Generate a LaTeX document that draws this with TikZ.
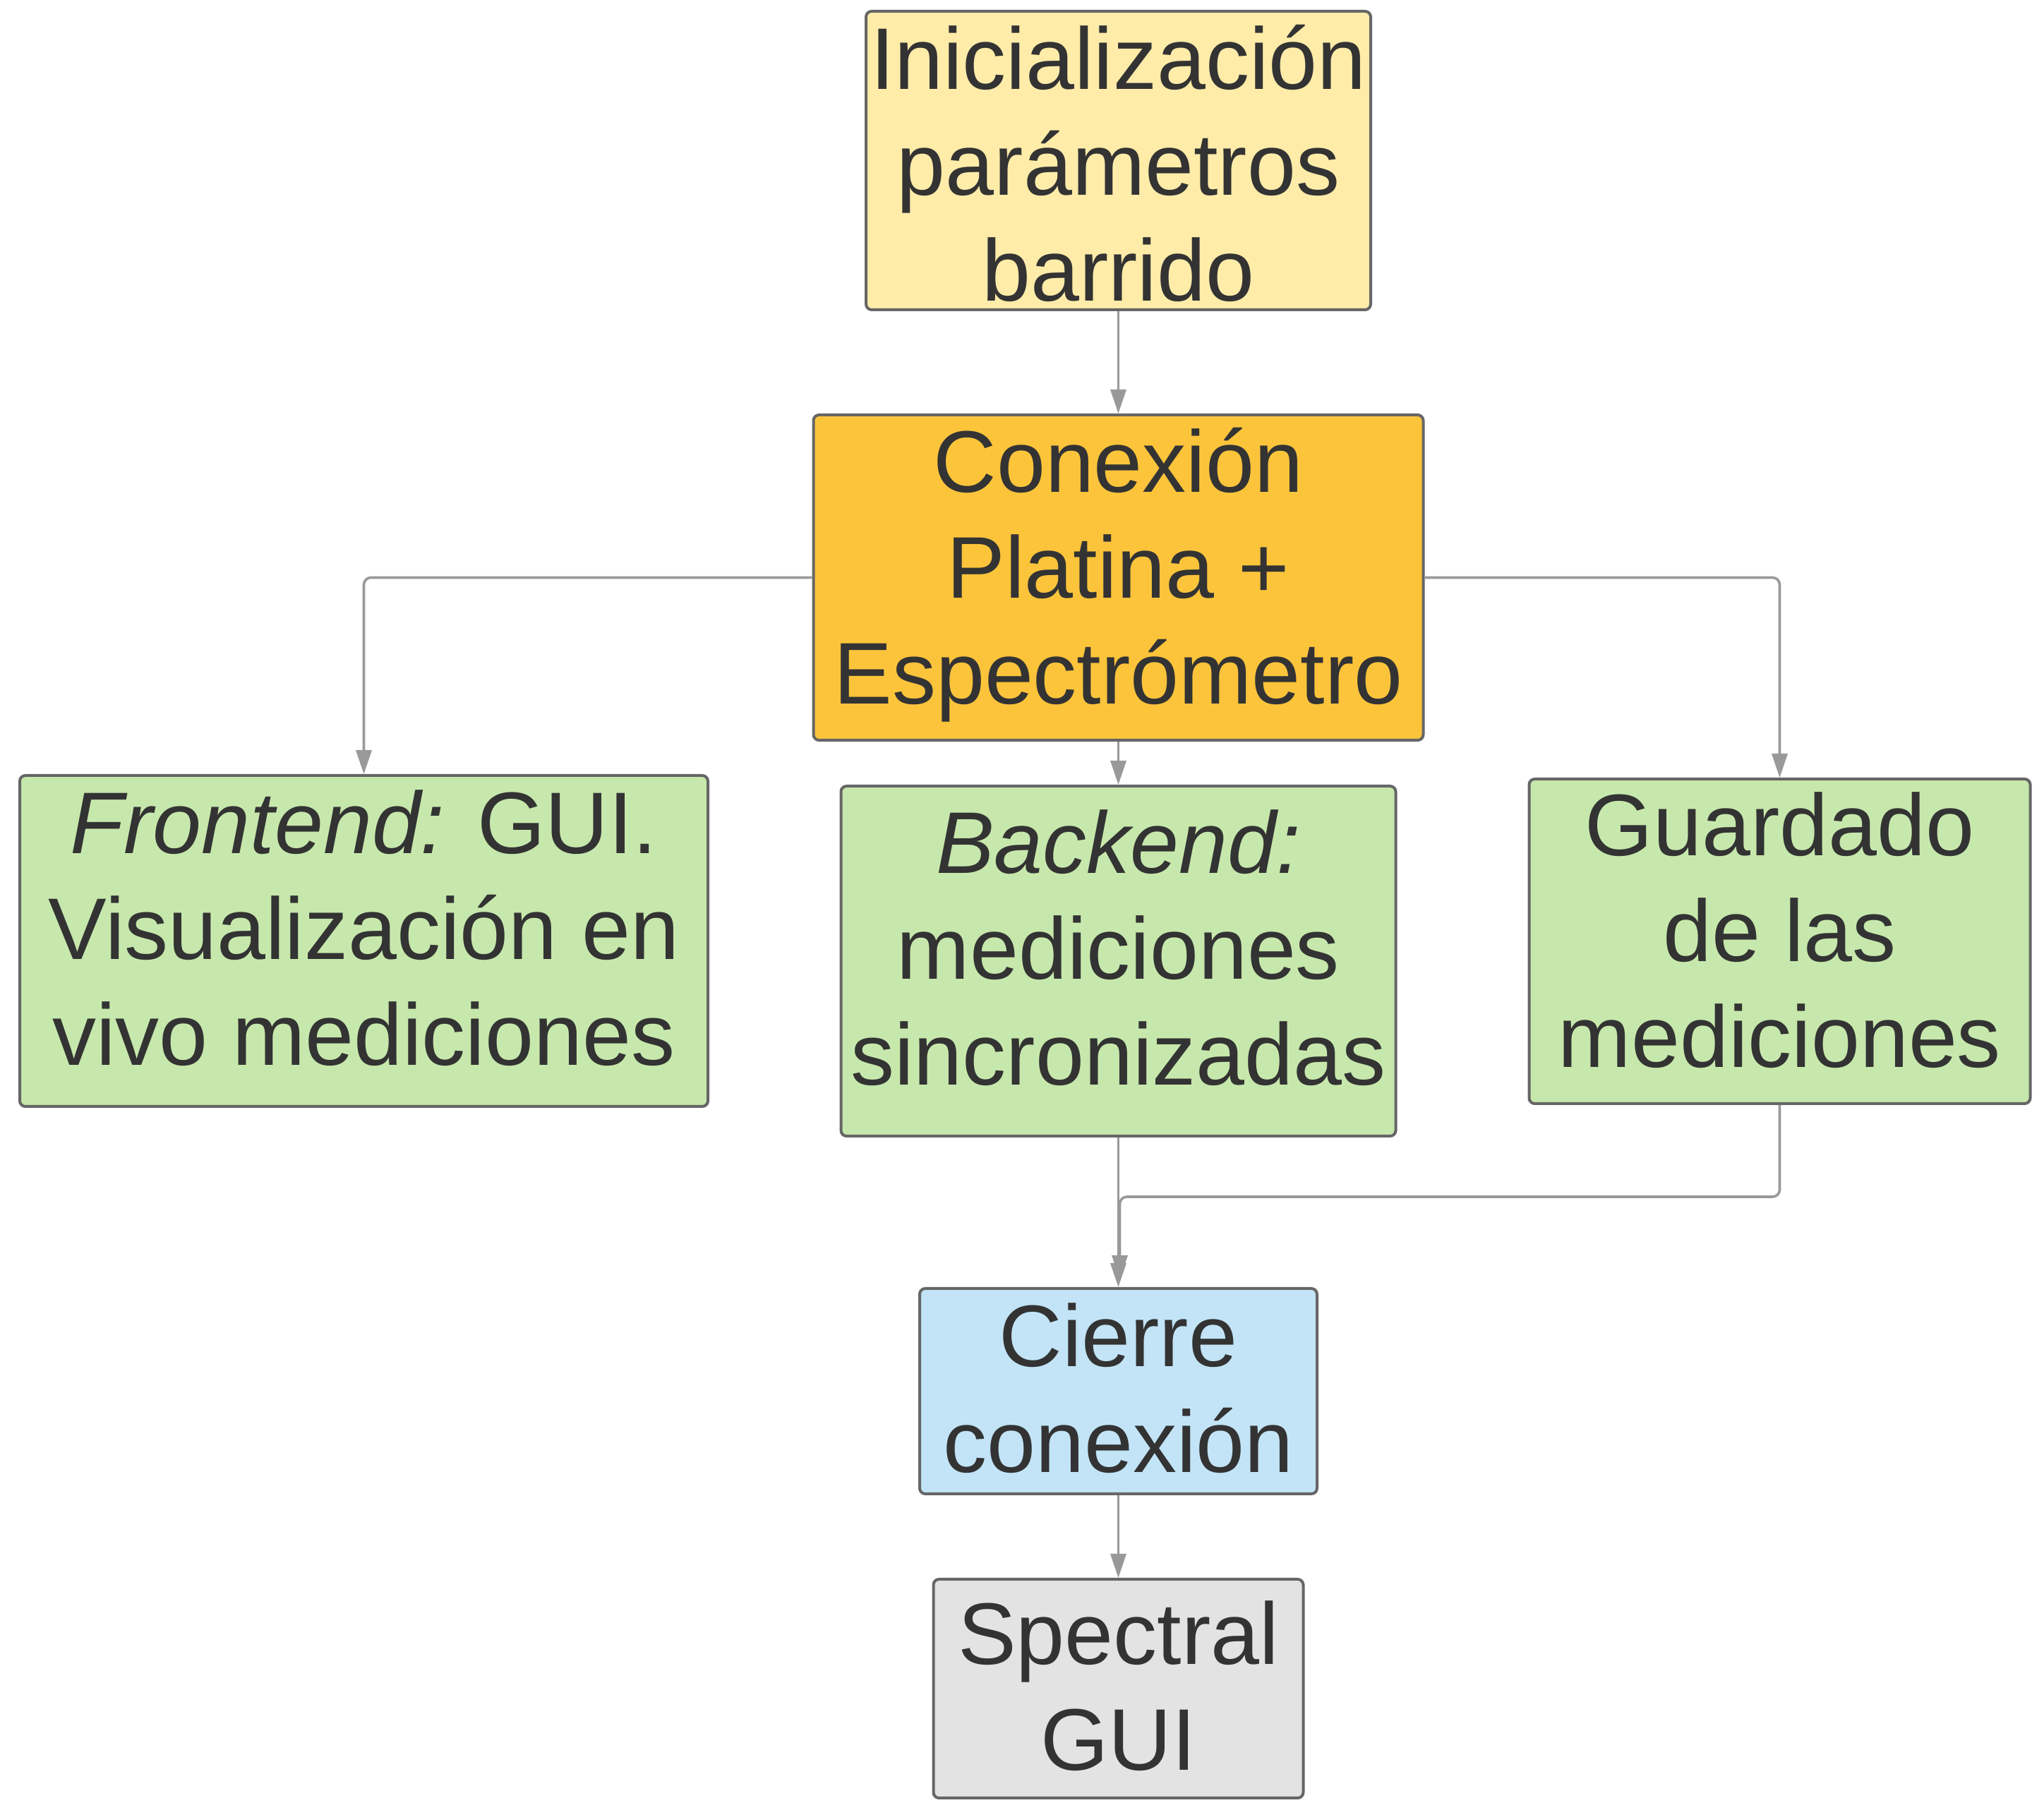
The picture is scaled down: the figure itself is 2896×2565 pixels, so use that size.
\documentclass[tikz,border=0pt]{standalone}
\usepackage{fontspec}
\setmainfont{Liberation Sans}
\usetikzlibrary{arrows.meta}
\definecolor{txt}{HTML}{333333}
\definecolor{bordc}{HTML}{666666}
\definecolor{linec}{HTML}{999999}
\definecolor{cinit}{HTML}{FFECA9}
\definecolor{cconn}{HTML}{FBC43B}
\definecolor{cgreen}{HTML}{C7E8AC}
\definecolor{cblue}{HTML}{C2E4F6}
\definecolor{cgray}{HTML}{E3E3E3}
\newcommand{\boxtext}[2]{\raisebox{#1}[0pt][0pt]{\begin{tabular}[t]{@{}c@{}}#2\end{tabular}}}
\tikzset{
  box/.style={draw=bordc, line width=1pt, rounded corners=2pt, inner sep=0pt,
    text=txt, font=\fontsize{31}{37.5}\selectfont},
  conn/.style={draw=linec, line width=0.9pt, rounded corners=2.5pt,
    -{Triangle[length=8.5pt,width=5.5pt]}, fill=none},
}
\begin{document}
\begin{tikzpicture}[x=0.25pt, y=-0.25pt]
\useasboundingbox (0,0) rectangle (2896,2565);

\node[box, fill=cinit, minimum width=178.75pt, minimum height=105.75pt] (init) at (1584.5,227.5)
  {\boxtext{25.125pt}{Inicialización\\parámetros\\barrido}};
\node[box, fill=cconn, minimum width=216pt, minimum height=115.25pt] (conn) at (1584.5,818.5)
  {\boxtext{30.125pt}{Conexión\\Platina +\\Espectrómetro}};
\node[box, fill=cgreen, minimum width=243.75pt, minimum height=117.25pt] (front) at (515.5,1333.5)
  {\boxtext{30.875pt}{\textit{Frontend:} GUI.\\Visualización en\\vivo mediciones}};
\node[box, fill=cgreen, minimum width=196.5pt, minimum height=124pt] (back) at (1584.5,1362)
  {\boxtext{31pt}{\textit{Backend:}\\mediciones\\sincronizadas}};
\node[box, fill=cgreen, minimum width=177.5pt, minimum height=115pt] (guard) at (2521.5,1334)
  {\boxtext{30.25pt}{Guardado\\de las\\mediciones}};
\node[box, fill=cblue, minimum width=140.75pt, minimum height=72.75pt] (cierre) at (1584.5,1971.5)
  {\boxtext{8.625pt}{Cierre\\conexión}};
\node[box, fill=cgray, minimum width=131pt, minimum height=77.5pt] (spec) at (1584.5,2393)
  {\boxtext{8.75pt}{Spectral\\GUI}};

\draw[conn] (init.south) -- (conn.north);
\draw[conn] (conn.west) -| (front.north);
\draw[conn] (conn.east) -| (guard.north);
\draw[conn] (conn.south) -- (back.north);
\draw[conn] (back.south) -- (cierre.north);
\draw[conn, shorten >=2.75pt] (guard.south) -- ++(0,130) -| ([xshift=0.5pt]cierre.north);
\draw[conn] (cierre.south) -- (spec.north);
\end{tikzpicture}
\end{document}
